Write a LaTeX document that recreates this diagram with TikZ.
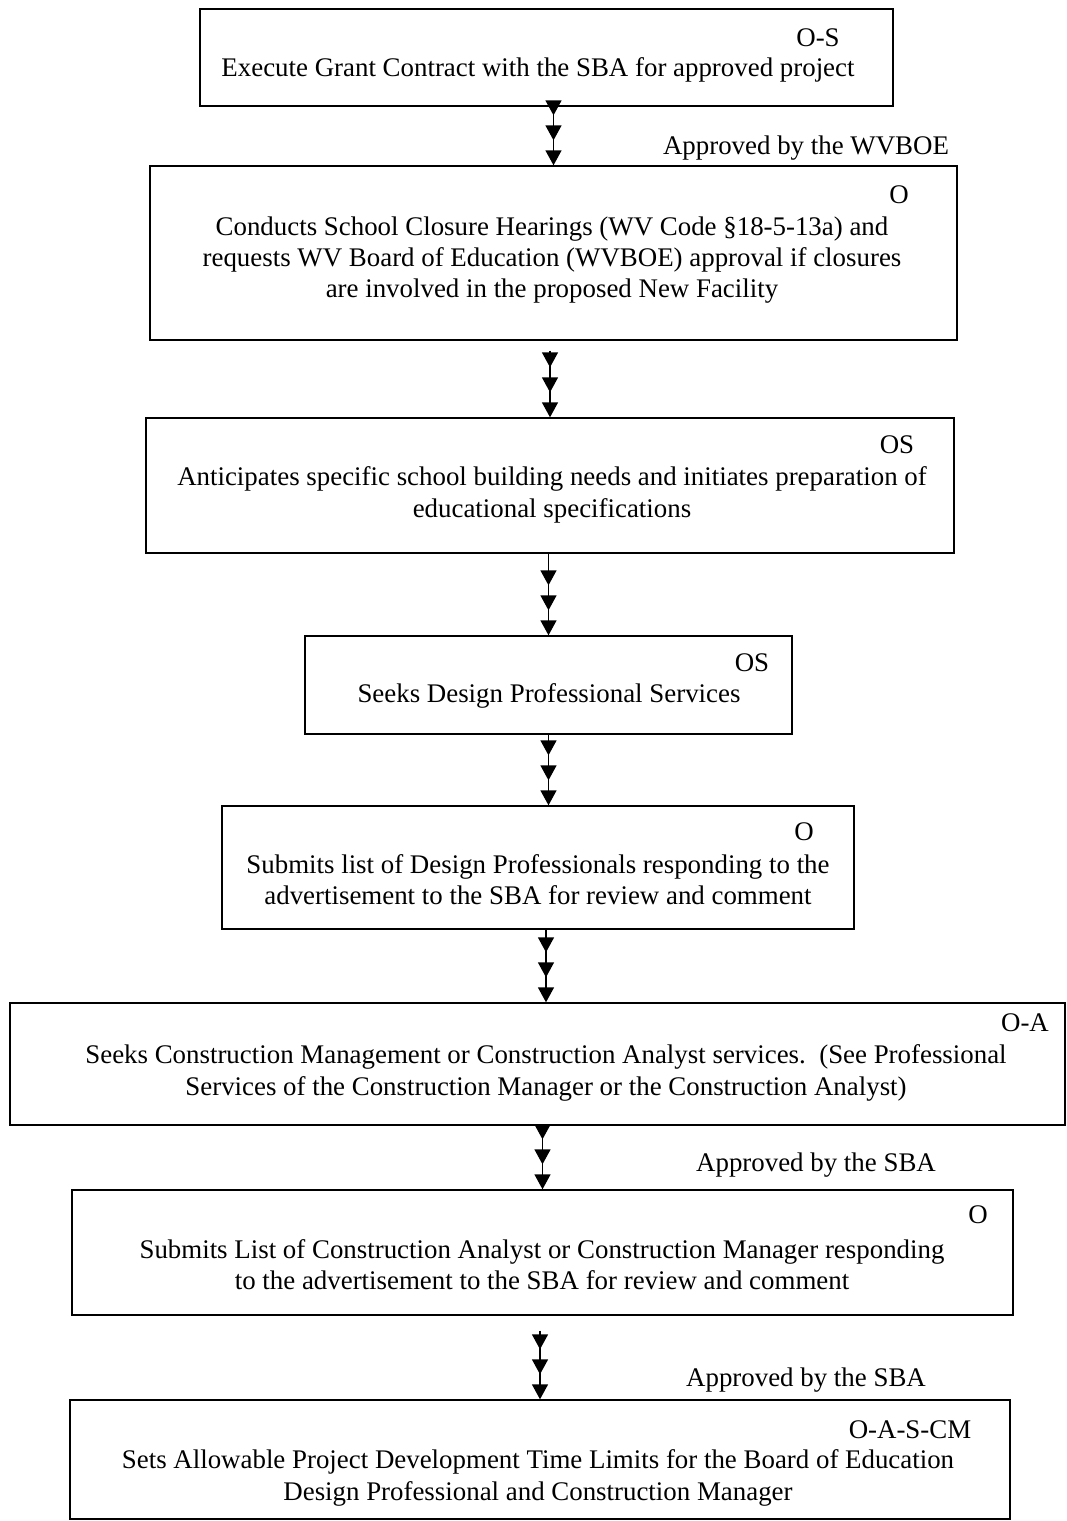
\documentclass[tikz,border=0pt]{standalone}
\usepackage{fontspec}
\setmainfont{Liberation Serif}
\usepackage{tikz}
\usetikzlibrary{arrows.meta}

\tikzset{
  stage/.style={draw, line width=0.8pt, inner sep=0pt},
  stagetext/.style={align=center, inner sep=0pt},
  tag/.style={inner sep=0pt},
  flow/.style={line width=0.8pt,
    -{Triangle[length=0.3cm,width=0.32cm,sep=0.2cm]Triangle[length=0.3cm,width=0.32cm,sep=0.2cm]Triangle[length=0.3cm,width=0.32cm]}},
}

\begin{document}
\begin{tikzpicture}[x=0.02cm, y=-0.02cm, font=\fontsize{15.3}{17.8}\selectfont]
            \useasboundingbox (0,0) rectangle (1067,1521);
            % boxes
            \node[stage, minimum width=13.86cm, minimum height=1.94cm] (execute) at (546.5,57.5) {};
            \node[stage, minimum width=16.14cm, minimum height=3.48cm] (closure) at (553.5,253) {};
            \node[stage, minimum width=16.16cm, minimum height=2.70cm] (needs) at (550,485.5) {};
            \node[stage, minimum width=9.74cm, minimum height=1.96cm] (seeks) at (548.5,685) {};
            \node[stage, minimum width=12.64cm, minimum height=2.46cm] (submits) at (538,867.5) {};
            \node[stage, minimum width=21.10cm, minimum height=2.44cm] (cm) at (537.5,1064) {};
            \node[stage, minimum width=18.82cm, minimum height=2.50cm] (cmlist) at (542.5,1252.5) {};
            \node[stage, minimum width=18.80cm, minimum height=2.38cm] (limits) at (540,1459.5) {};

            % texts
            \node[stagetext] (executetext) at (538,70) {Execute Grant Contract with the SBA for approved project};
            \node[stagetext] (closuretext) at (552,260) {Conducts School Closure Hearings (WV Code §18-5-13a) and\\
              requests WV Board of Education (WVBOE) approval if closures\\
              are involved in the proposed New Facility};
            \node[stagetext] (needstext) at (552,495) {Anticipates specific school building needs and initiates preparation of\\
              educational specifications};
            \node[stagetext] (seekstext) at (549,696) {Seeks Design Professional Services};
            \node[stagetext] (submitstext) at (538,880) {Submits list of Design Professionals responding to the\\
              advertisement to the SBA for review and comment};
            \node[stagetext] (cmtext) at (546,1073) {Seeks Construction Management or Construction Analyst services.\ \ (See Professional\\
              Services of the Construction Manager or the Construction Analyst)};
            \node[stagetext] (cmlisttext) at (542,1265) {Submits List of Construction Analyst or Construction Manager responding\\
              to the advertisement to the SBA for review and comment};
            \node[stagetext] (limitstext) at (538,1478) {Sets Allowable Project Development Time Limits for the Board of Education\\
              Design Professional and Construction Manager};

            % tags
            \node[tag] (executetag) at (818,38) {O-S};
            \node[tag] (closuretag) at (899,195) {O};
            \node[tag] (needstag) at (897,445) {OS};
            \node[tag] (seekstag) at (752,663) {OS};
            \node[tag] (submitstag) at (804,832) {O};
            \node[tag] (cmtag) at (1025,1023) {O-A};
            \node[tag] (cmlisttag) at (978,1215) {O};
            \node[tag] (limitstag) at (910,1430) {O-A-S-CM};

            % approvals
            \node[tag] (wvboe) at (806,148) {Approved by the WVBOE};
            \node[tag] (sbaone) at (816,1165) {Approved by the SBA};
            \node[tag] (sbatwo) at (806,1380) {Approved by the SBA};

            % arrows
            \draw[flow] (execute.south -| closure.north) -- (closure.north);
            \draw[flow] ([yshift=-0.2cm]closure.south -| needs.north) -- (needs.north);
            \draw[flow] (needs.south -| seeks.north) -- (seeks.north);
            \draw[flow] (seeks.south) -- (seeks.south |- submits.north);
            \draw[flow] ([xshift=0.16cm]submits.south) -- ([xshift=0.16cm]submits.south |- cm.north);
            \draw[flow] (cm.south -| cmlist.north) -- (cmlist.north);
            \draw[flow] ([yshift=-0.3cm]cmlist.south -| limits.north) -- (limits.north);
        \end{tikzpicture}
\end{document}
